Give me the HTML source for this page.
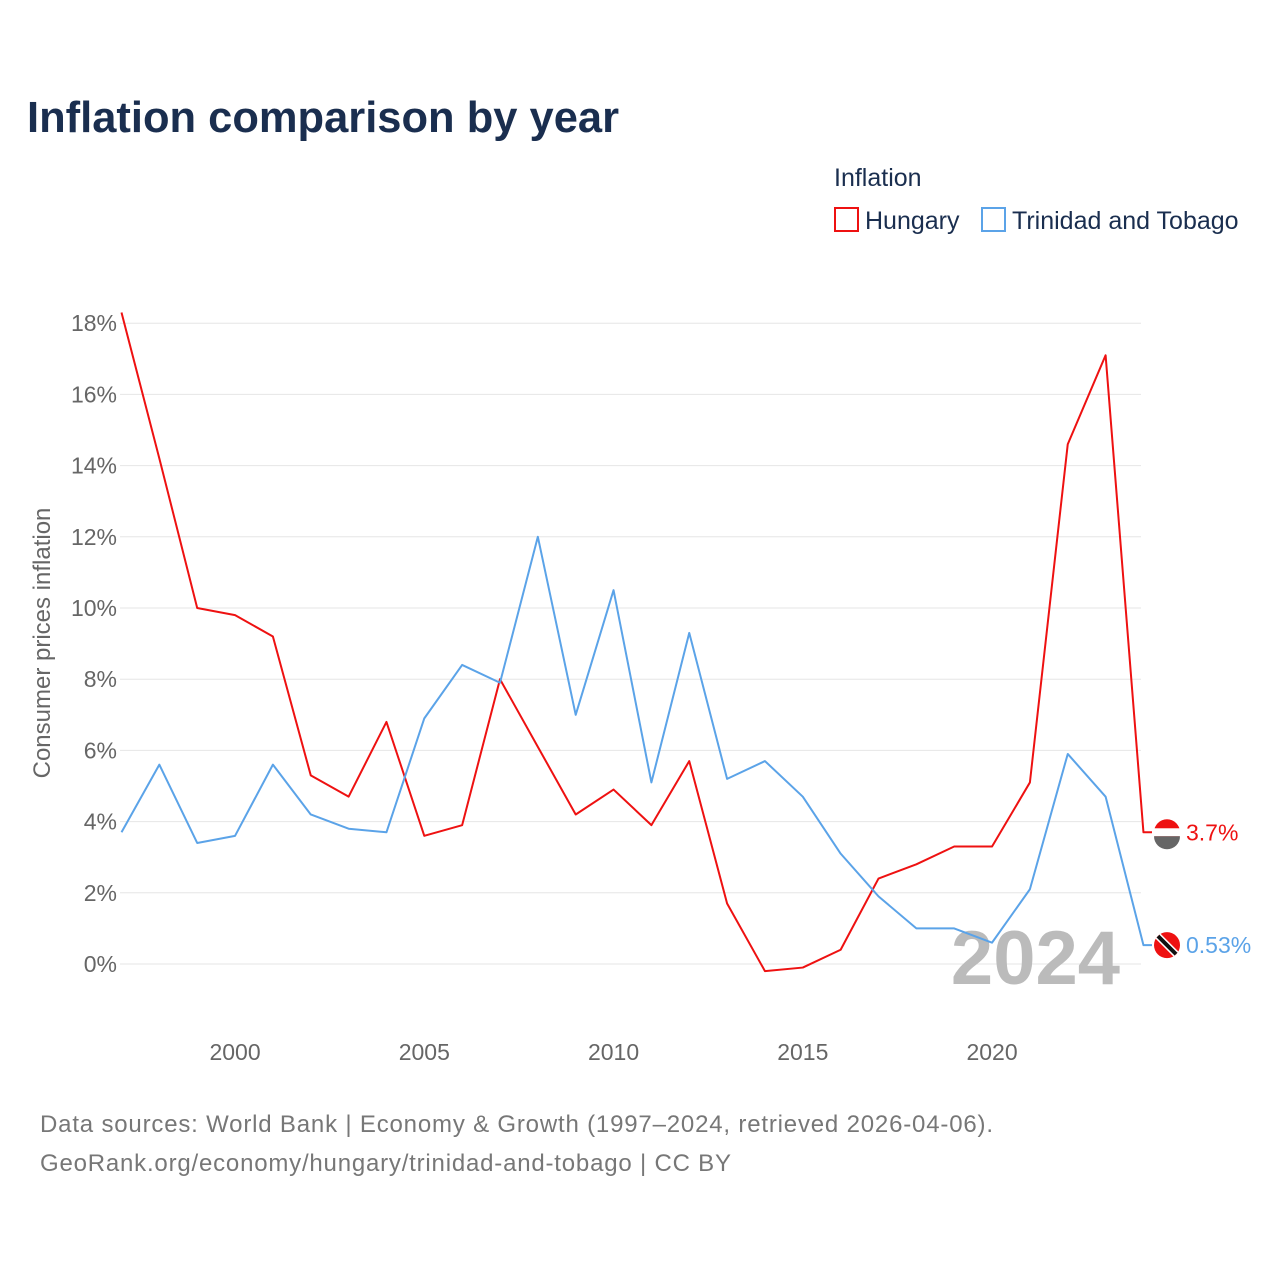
<!DOCTYPE html>
<html><head><meta charset="utf-8"><style>
body{margin:0;background:#fff;width:1280px;height:1280px;overflow:hidden;font-family:"Liberation Sans",sans-serif}
svg text{font-family:"Liberation Sans",sans-serif}
</style></head><body>
<svg id="chart" width="1280" height="1280" viewBox="0 0 1280 1280">
<text x="27" y="132" font-size="44" font-weight="bold" fill="#1a2e4f" textLength="592" lengthAdjust="spacingAndGlyphs">Inflation comparison by year</text>
<text x="834" y="186" font-size="25" fill="#1a2e4f">Inflation</text>
<g>
<rect x="835" y="208" width="23" height="23" fill="none" stroke="#ee1111" stroke-width="2"/>
<text x="865" y="229" font-size="25" fill="#1a2e4f">Hungary</text></g>
<g>
<rect x="982" y="208" width="23" height="23" fill="none" stroke="#5ba3e8" stroke-width="2"/>
<text x="1012" y="229" font-size="25" fill="#1a2e4f">Trinidad and Tobago</text></g>
<text transform="translate(50,643) rotate(-90)" text-anchor="middle" font-size="24" fill="#666">Consumer prices inflation</text>
<g id="grid"></g><g id="xt"></g>
<text x="1120" y="984" text-anchor="end" font-size="76" font-weight="bold" fill="#bbb">2024</text>
<g id="series"></g>
<text x="40" y="1132" font-size="24" fill="#777" textLength="953">Data sources: World Bank | Economy &amp; Growth (1997–2024, retrieved 2026-04-06).</text>
<text x="40" y="1171" font-size="24" fill="#777" textLength="691">GeoRank.org/economy/hungary/trinidad-and-tobago | CC BY</text>
</svg>
<script>
const years=[1997,1998,1999,2000,2001,2002,2003,2004,2005,2006,2007,2008,2009,2010,2011,2012,2013,2014,2015,2016,2017,2018,2019,2020,2021,2022,2023,2024];
const hungary=[18.3,14.2,10.0,9.8,9.2,5.3,4.7,6.8,3.6,3.9,8.0,6.1,4.2,4.9,3.9,5.7,1.7,-0.2,-0.1,0.4,2.4,2.8,3.3,3.3,5.1,14.6,17.1,3.7];
const trinidad=[3.7,5.6,3.4,3.6,5.6,4.2,3.8,3.7,6.9,8.4,7.9,12.0,7.0,10.5,5.1,9.3,5.2,5.7,4.7,3.1,1.9,1.0,1.0,0.6,2.1,5.9,4.7,0.53];
const yTicks=[0,2,4,6,8,10,12,14,16,18];
const xTicks=[2000,2005,2010,2015,2020];
const NS="http://www.w3.org/2000/svg";
const X=y=>121.5+(y-1997)*37.85, Y=v=>964-v*35.6;
function mk(t,a,p){const e=document.createElementNS(NS,t);for(const k in a)e.setAttribute(k,a[k]);p.appendChild(e);return e;}
const g=document.getElementById('grid');
yTicks.forEach(v=>{
 const l=mk('line',{x1:120,x2:1141,y1:Y(v),y2:Y(v),stroke:'#e6e6e6','stroke-width':1},g);
 
 
 const t=mk('text',{x:117,y:Y(v)+8,'text-anchor':'end','font-size':23,fill:'#666'},g);
 t.textContent=v+'%';
 
 
});
const xt=document.getElementById('xt');
xTicks.forEach(v=>{
 const t=mk('text',{x:X(v),y:1060,'text-anchor':'middle','font-size':23,fill:'#666'},xt);
 t.textContent=v;
 
 
});
const s=document.getElementById('series');
[[hungary,'#ee1111','hungary','3.7%'],[trinidad,'#5ba3e8','trinidad','0.53%']].forEach(([d,c,n,lab])=>{
 let pts=d.map((v,i)=>X(years[i])+','+Y(v));
 const last=Y(d[d.length-1]);
 pts.push('1152,'+last);
 const p=mk('polyline',{points:pts.join(' '),fill:'none',stroke:c,'stroke-width':2,'stroke-linejoin':'round'},s);
 
 
 const f=mk('circle',{cx:1167,cy:last,r:13,fill:'#ee1111'},s);
 
 
 if(n==='hungary'){mk('rect',{x:1154,y:last-4,width:26,height:8,fill:'#fff'},s);mk('path',{d:`M1154,${last+4} h26 a13,13 0 0 1 -26,0z`,fill:'#666'},s);}
 else{mk('line',{x1:1158,y1:last-9,x2:1176,y2:last+9,stroke:'#fff','stroke-width':7},s);mk('line',{x1:1158,y1:last-9,x2:1176,y2:last+9,stroke:'#111','stroke-width':4},s);}
 const t=mk('text',{x:1186,y:last+8,'font-size':23,fill:c},s);
 t.textContent=lab;
 
 
});
</script>
</body></html>
